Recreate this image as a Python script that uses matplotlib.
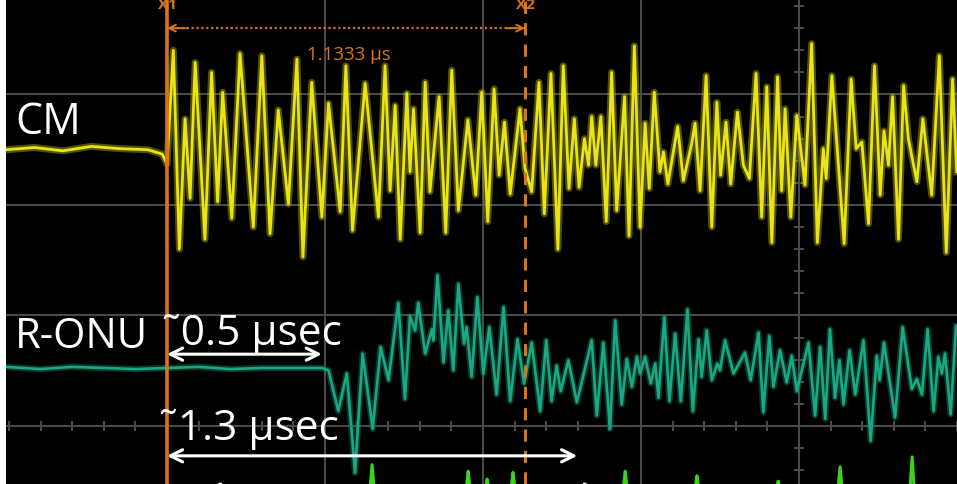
import matplotlib.pyplot as plt
import numpy as np

plt.rcParams['font.family'] = ['Open Sans', 'DejaVu Sans']

# time in ns (0 = cursor X1), amplitude in screen divisions around each trace baseline
cm_t = [-510, -420, -330, -240, -150, -60, -15, 0, 20, 39,
        57, 73, 89, 120, 141, 160, 176, 205, 231, 273,
        300, 326, 352, 384, 411, 430, 458, 490, 511, 548,
        566, 587, 627, 669, 690, 706, 722, 738, 759, 769,
        780, 801, 817, 832, 861, 882, 901, 922, 952, 977,
        996, 1015, 1035, 1051, 1068, 1086, 1117, 1133, 1154, 1177,
        1194, 1215, 1237, 1254, 1272, 1289, 1304, 1321, 1334, 1344,
        1357, 1373, 1390, 1407, 1423, 1448, 1462, 1479, 1497, 1513,
        1526, 1542, 1560, 1571, 1585, 1616, 1634, 1660, 1671, 1687,
        1706, 1724, 1740, 1752, 1769, 1784, 1805, 1824, 1843, 1864,
        1882, 1898, 1914, 1932, 1945, 1956, 1974, 1993, 2019, 2040,
        2058, 2077, 2086, 2104, 2143, 2165, 2181, 2199, 2220, 2239,
        2257, 2269, 2283, 2296, 2315, 2331, 2346, 2373, 2392, 2420,
        2444, 2466, 2486, 2499]
cm_v = [0.00, 0.02, -0.01, 0.03, 0.01, 0.00, -0.04, -0.13, 0.90, -0.90,
        0.28, -0.44, 0.79, -0.81, 0.70, -0.47, 0.52, -0.62, 0.87, -0.70,
        0.85, -0.76, 0.36, -0.49, 0.82, -0.97, 0.61, -0.61, 0.42, -0.56,
        0.76, -0.73, 0.60, -0.61, 0.76, -0.37, 0.40, -0.81, 0.51, -0.20,
        0.37, -0.75, 0.61, -0.38, 0.48, -0.75, 0.72, -0.55, 0.27, -0.41,
        0.52, -0.65, 0.55, -0.23, 0.25, -0.40, 0.37, -0.17, -0.38, 0.61,
        -0.58, 0.69, -0.90, 0.76, -0.35, 0.28, -0.34, 0.10, -0.14, 0.30,
        -0.14, 0.30, -0.65, 0.70, -0.55, 0.48, -0.78, 0.94, -0.70, 0.24,
        -0.35, 0.52, -0.20, -0.02, -0.31, 0.21, -0.28, 0.05, 0.24, -0.37,
        0.67, -0.70, 0.43, -0.23, 0.25, -0.31, 0.34, -0.14, -0.26, 0.69,
        -0.61, 0.57, -0.84, 0.66, -0.37, 0.37, -0.61, 0.31, -0.32, 0.96,
        -0.84, 0.01, -0.26, 0.67, -0.85, 0.64, 0.01, 0.07, -0.67, 0.76,
        -0.41, 0.17, -0.14, 0.48, -0.81, 0.58, 0.10, -0.29, 0.28, -0.41,
        0.85, -0.93, 0.64, -0.20]

onu_t = [-510, -400, -300, -200, -100, 0, 100, 200, 300, 400,
         490, 511, 542, 569, 595, 619, 651, 676, 701, 732,
         753, 769, 785, 795, 817, 838, 843, 856, 875, 890,
         906, 922, 940, 948, 964, 982, 1001, 1020, 1043, 1065,
         1086, 1109, 1130, 1154, 1181, 1200, 1217, 1233, 1246, 1270,
         1297, 1344, 1360, 1381, 1402, 1418, 1439, 1455, 1471, 1487,
         1497, 1513, 1531, 1545, 1555, 1574, 1590, 1608, 1626, 1647,
         1664, 1682, 1692, 1708, 1724, 1742, 1750, 1766, 1793, 1829,
         1847, 1872, 1887, 1906, 1919, 1940, 1961, 1977, 1993, 2030,
         2051, 2067, 2083, 2098, 2114, 2128, 2141, 2160, 2178, 2204,
         2227, 2246, 2255, 2269, 2304, 2328, 2357, 2373, 2389, 2407,
         2426, 2441, 2452, 2462, 2480, 2497]
onu_v = [0.01, -0.01, 0.01, 0.00, -0.01, 0.00, 0.01, -0.01, 0.00, 0.00,
         0.00, -0.02, -0.39, -0.05, -0.95, 0.13, -0.55, 0.19, -0.11, 0.59,
         -0.28, 0.47, 0.34, 0.59, 0.13, 0.35, 0.25, 0.84, 0.05, 0.52,
         -0.02, 0.76, 0.22, 0.37, -0.08, 0.64, -0.05, 0.37, -0.24, 0.55,
         -0.30, 0.26, -0.14, 0.23, -0.39, 0.25, -0.30, 0.02, -0.21, 0.07,
         -0.31, 0.25, -0.43, 0.23, -0.55, 0.43, -0.33, 0.08, -0.17, 0.10,
         -0.05, 0.10, -0.14, 0.04, -0.27, 0.46, -0.30, 0.31, -0.30, 0.53,
         -0.39, 0.26, -0.08, 0.34, -0.11, 0.04, -0.02, 0.25, -0.05, 0.14,
         -0.11, 0.32, -0.40, 0.29, -0.17, 0.16, -0.13, 0.11, -0.21, 0.23,
         -0.43, 0.19, -0.46, 0.35, -0.27, 0.07, -0.33, 0.16, -0.24, 0.25,
         -0.66, 0.11, -0.11, 0.23, -0.45, 0.37, -0.19, -0.10, -0.24, 0.35,
         -0.39, 0.10, -0.05, 0.13, -0.42, 0.38]

# third channel: only the tops of its spikes reach the screen
spike_t = [649, 953, 1013, 1095, 1450, 1677, 1934, 2130, 2358]
spike_h = [0.24, 0.18, 0.11, 0.17, 0.18, 0.14, 0.09, 0.22, 0.31]

cursor_x1 = 0.0
cursor_x2 = 1133.3   # ns
delay_onu = 490      # ns, ~0.5 usec
delay_total = 1298   # ns, ~1.3 usec

assert len(cm_t) == len(cm_v) and len(onu_t) == len(onu_v)

cm_offset = 2.5
onu_offset = 0.525
g_offset = -0.59

fig = plt.figure(figsize=(9.57, 4.85), dpi=100, facecolor='white')
ax = fig.add_axes([6 / 957, 0, 951 / 957, 1])
ax.set_facecolor('black')
ax.set_xlim(-509.6, 2500)
ax.set_ylim(-0.525, 3.864)
ax.set_xticks([])
ax.set_yticks([])
for s in ax.spines.values():
    s.set_visible(False)

# graticule
grid_c = '#4d4d4d'
for gx in [0, 500, 1000, 1500, 2000]:
    ax.axvline(gx, color=grid_c, lw=1.4, zorder=1)
for gy in [0, 1, 2, 3]:
    ax.axhline(gy, color=grid_c, lw=1.4, zorder=1)
for tx in np.arange(-500, 2501, 100):
    ax.plot([tx, tx], [-0.035, 0.035], color=grid_c, lw=1.4, zorder=1)
for ty in np.arange(-0.4, 3.9, 0.2):
    ax.plot([1987, 2013], [ty, ty], color=grid_c, lw=1.4, zorder=1)

# traces
cm_y = np.array(cm_v) + cm_offset
onu_y = np.array(onu_v) + onu_offset
ax.plot(cm_t, cm_y, color='#b8b400', lw=5.0, alpha=0.45, zorder=3)
ax.plot(cm_t, cm_y, color='#e8e418', lw=2.0, zorder=4)
ax.plot(onu_t, onu_y, color='#0b7d5e', lw=4.5, alpha=0.45, zorder=3)
ax.plot(onu_t, onu_y, color='#1aa884', lw=1.9, zorder=4)

g_t = [-510]
g_v = [0.0]
for st, sh in zip(spike_t, spike_h):
    g_t += [st - 7, st, st + 7]
    g_v += [0.0, sh, 0.0]
g_t.append(2500)
g_v.append(0.0)
ax.plot(g_t, np.array(g_v) + g_offset, color='#3ed21a', lw=2.2, zorder=4)

# cursors
orange = '#d9741c'
ax.axvline(cursor_x1, color=orange, lw=2.6, zorder=5)
ax.axvline(cursor_x2, color=orange, lw=2.2, ls=(0, (4, 3)), zorder=5)
ax.text(cursor_x1, 3.82, 'X1', color=orange, fontsize=11, ha='center', va='center',
        fontweight='bold', zorder=6)
ax.text(cursor_x2, 3.82, 'X2', color=orange, fontsize=11, ha='center', va='center',
        fontweight='bold', zorder=6)
ax.plot([cursor_x1 + 15, cursor_x2 - 15], [3.60, 3.60], color=orange, lw=1.6,
        ls=(0, (1, 1.2)), zorder=5)
for a, b in [(cursor_x1 + 60, cursor_x1), (cursor_x2 - 60, cursor_x2)]:
    ax.annotate('', xy=(b, 3.60), xytext=(a, 3.60),
                arrowprops=dict(arrowstyle='->', color=orange, lw=1.4,
                                mutation_scale=12, shrinkA=0, shrinkB=0), zorder=5)
ax.text((cursor_x1 + cursor_x2) / 2 + 10, 3.37, f'{cursor_x2 / 1000:.4f} µs', color=orange,
        fontsize=13.5, ha='center', va='center', zorder=6)

# channel labels and delay annotations
ax.text(-481, 2.65, 'CM', color='white', fontsize=31, va='baseline', zorder=7)
ax.text(-481, 0.715, 'R-ONU', color='white', fontsize=30, va='baseline', zorder=7)
ax.text(-15, 0.74, '˜0.5 µsec', color='white', fontsize=30.5, va='baseline', zorder=7)
ax.text(-24, -0.12, '˜1.3 µsec', color='white', fontsize=30.5, va='baseline', zorder=7)

arrow = dict(arrowstyle='<->', color='white', lw=2.2, mutation_scale=22,
             shrinkA=0, shrinkB=0)
ax.annotate('', xy=(cursor_x1, 0.65), xytext=(delay_onu, 0.65), arrowprops=arrow, zorder=7)
ax.annotate('', xy=(cursor_x1, -0.27), xytext=(delay_total, -0.27), arrowprops=arrow, zorder=7)
ax.annotate('', xy=(120, -0.58), xytext=(1370, -0.58), arrowprops=arrow, zorder=7,
            annotation_clip=False)

fig.savefig('out.png', dpi=100, facecolor='white')
